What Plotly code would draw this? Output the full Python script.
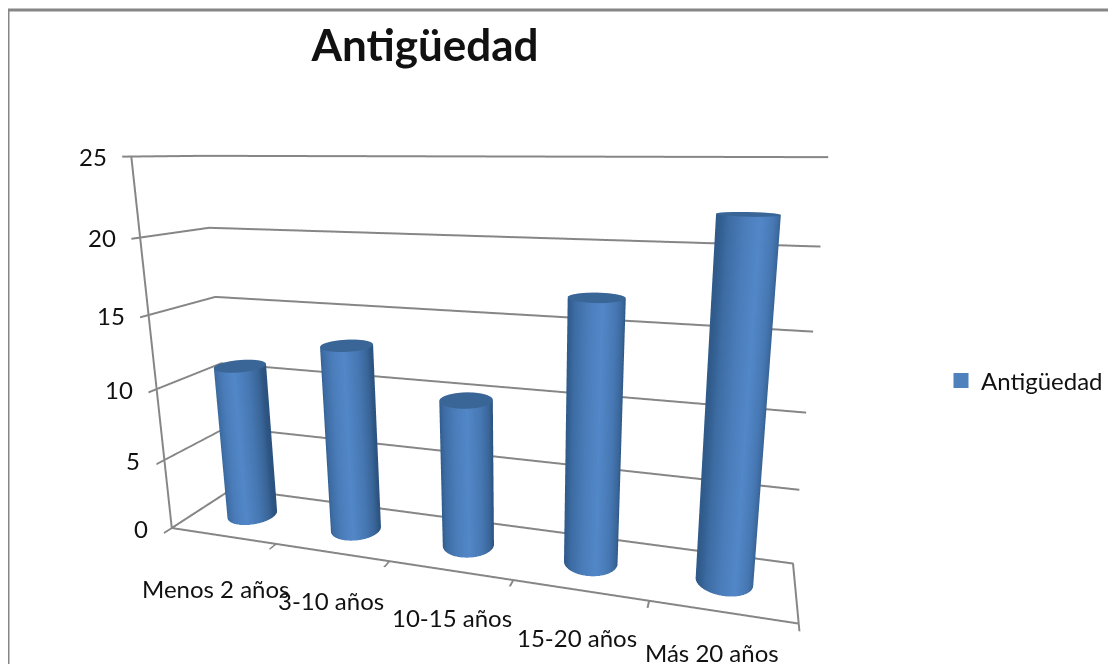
import numpy as np
import plotly.graph_objects as go

categorias = ["Menos 2 años", "3-10 años", "10-15 años", "15-20 años", "Más 20 años"]
valores = [11, 13, 10, 17, 22]
serie = "Antigüedad"
z_ticks = [0, 5, 10, 15, 20, 25]

W, H = 1108, 656
px = lambda x: (x - 8) / W
py = lambda y: 1 - (y - 8) / H

FONT = "Lato, Carlito, sans-serif"
GRAY = "#868686"
TXT = "#111111"
DEPTH = 0.8275
R = 0.2058
TH = np.radians(16.07)
label_dx = [-7, -1, 2, -3, -10]
label_dy = [-53, -48, -47, -47, -41]
ang = np.linspace(0, 2*np.pi, 97)
scale = [[0, "#2f5a8a"], [0.1, "#3d6ca3"], [0.3, "#4a7cb9"], [0.55, "#5287c8"],
         [0.8, "#4677b2"], [0.93, "#3a6699"], [1, "#2c5380"]]
FLAT = dict(ambient=1, diffuse=0, specular=0, fresnel=0, roughness=1)

fig = go.Figure()
for i, v in enumerate(valores):
    cx, cy = i + 0.5, DEPTH/2
    X = np.vstack([cx + R*np.cos(ang)]*2)
    Y = np.vstack([cy + R*np.sin(ang)]*2)
    Z = np.vstack([np.zeros_like(ang), np.full_like(ang, v)])
    u = np.cos(ang)*np.cos(TH) + np.sin(ang)*np.sin(TH)
    fig.add_trace(go.Surface(x=X, y=Y, z=Z, surfacecolor=np.vstack([u, u]), cmin=-1, cmax=1,
                             colorscale=scale, showscale=False, hoverinfo="skip", lighting=FLAT))
    XC = np.vstack([cx + 0*np.cos(ang), cx + R*np.cos(ang)])
    YC = np.vstack([cy + 0*np.sin(ang), cy + R*np.sin(ang)])
    fig.add_trace(go.Surface(x=XC, y=YC, z=np.full_like(XC, v, dtype=float), surfacecolor=np.zeros_like(XC),
                             colorscale=[[0, "#3a6597"], [1, "#3a6597"]], showscale=False, hoverinfo="skip", lighting=FLAT))

n = len(categorias)
fig.add_trace(go.Scatter3d(x=[0, n, n, 0, 0], y=[0, 0, DEPTH, DEPTH, 0], z=[0]*5, mode="lines",
                           line=dict(color=GRAY, width=4), hoverinfo="skip", showlegend=False))
fig.add_trace(go.Scatter3d(x=[None], y=[None], z=[None], mode="markers", name=serie, showlegend=True,
                           marker=dict(symbol="square", color="#4f81bd", size=15)))

f_txt = dict(family=FONT, size=24, color=TXT)
ann = [dict(x=i+0.5, y=0, z=0, text=c, showarrow=False, xshift=label_dx[i], yshift=label_dy[i],
            xanchor="center", yanchor="middle", font=f_txt) for i, c in enumerate(categorias)]
ann += [dict(x=0, y=0, z=t, text=str(t), showarrow=False, xshift=-22, xanchor="right", yanchor="middle", font=f_txt)
        for t in z_ticks]

axis_off = dict(showbackground=False, zeroline=False, showspikes=False)
fig.update_layout(
    width=W, height=H, margin=dict(l=0, r=0, t=0, b=0), paper_bgcolor="white",
    title=dict(text="<b>Antigüedad</b>", x=px(425), y=py(46), xanchor="center", yanchor="middle",
               font=dict(family=FONT, size=44, color=TXT)),
    legend=dict(x=px(941), y=py(381), yanchor="middle", xanchor="left", font=dict(family=FONT, size=24, color=TXT),
                bgcolor="rgba(0,0,0,0)"),
    shapes=[dict(type="line", xref="paper", yref="paper", x0=0, x1=1, y0=py(10), y1=py(10), line=dict(color=GRAY, width=3)),
            dict(type="line", xref="paper", yref="paper", x0=px(8), x1=px(8), y0=-0.02, y1=py(10), line=dict(color=GRAY, width=3))],
    scene=dict(
        domain=dict(x=[0, 0.9235], y=[0, 1]),
        aspectmode="manual", aspectratio=dict(x=1.9822, y=0.3281, z=1.2097),
        xaxis=dict(range=[0, n], tickvals=list(range(n+1)), ticktext=[""]*(n+1), showgrid=False, showline=False,
                   ticks="outside", ticklen=14, tickwidth=4, tickcolor=GRAY, title="", **axis_off),
        yaxis=dict(range=[0, DEPTH], showticklabels=False, showgrid=False, showline=False, ticks="", title="", **axis_off),
        zaxis=dict(range=[0, 25], tickvals=z_ticks, ticktext=[""]*len(z_ticks), showgrid=True, gridcolor=GRAY, gridwidth=4,
                   showline=True, linecolor=GRAY, linewidth=4, ticks="outside", ticklen=14, tickwidth=4, tickcolor=GRAY,
                   title="", **axis_off),
        camera=dict(eye=dict(x=0.7965, y=-2.1759, z=0.6221),
                    up=dict(x=0, y=0, z=1), center=dict(x=0.1003, y=0.2412, z=0.0332),
                    projection=dict(type="perspective")),
        annotations=ann,
    ),
)
fig.write_html("out.html")
